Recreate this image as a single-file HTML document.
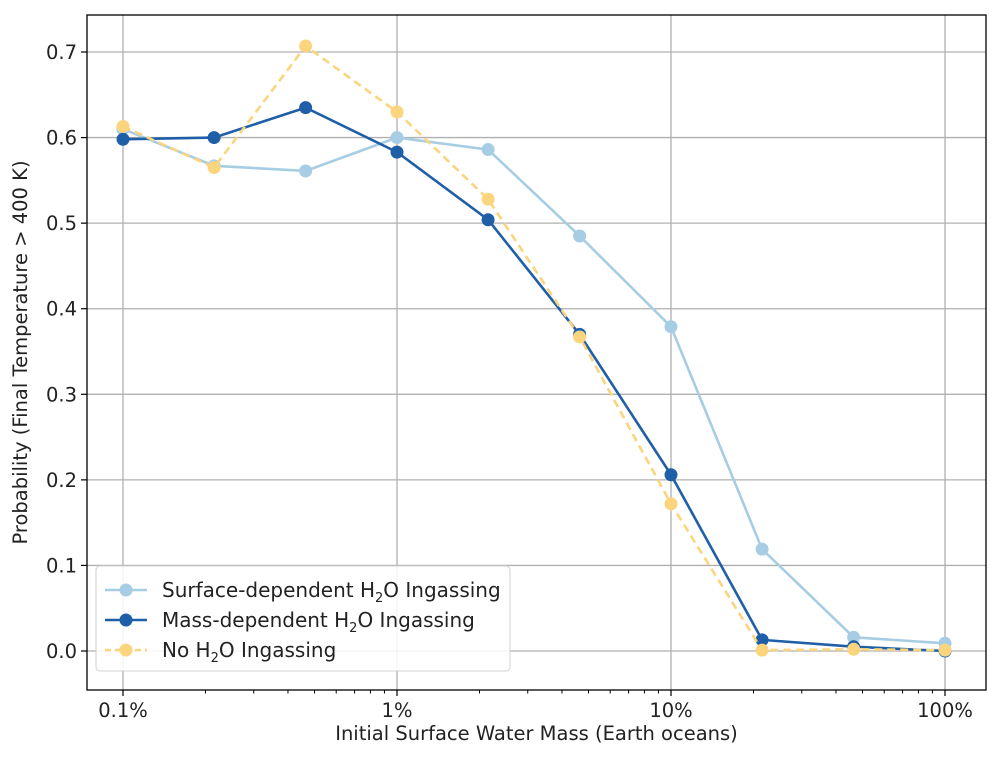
<!DOCTYPE html>
<html><head><meta charset="utf-8"><style>
body{margin:0;background:#fff;}
svg text{font-family:"DejaVu Sans","Liberation Sans",sans-serif;fill:#222;}
</style></head><body>
<svg id="chart" width="1000" height="757">
<g id="grid"></g><g id="axes"></g><g id="series"></g><g id="legend"></g>
</svg>
<script>
const xValues=[0.1,0.215,0.464,1,2.15,4.64,10,21.5,46.4,100];
const surfaceVals=[0.61,0.567,0.561,0.600,0.586,0.485,0.379,0.119,0.016,0.009];
const massVals=[0.598,0.600,0.635,0.583,0.504,0.370,0.206,0.013,0.005,0.000];
const noVals=[0.613,0.565,0.707,0.630,0.528,0.367,0.172,0.001,0.002,0.001];
const yTicks=[0,0.1,0.2,0.3,0.4,0.5,0.6,0.7];
const xTicks=[0.1,1,10,100];
const xTickLabels=["0.1%","1%","10%","100%"];
const NS="http://www.w3.org/2000/svg";
const L=87,R=986,T=15,B=690;
function xs(v){return 123+(Math.log10(v)+1)*274;}
function ys(v){return 651-v*855.7;}
function mk(tag,attrs,parent){const e=document.createElementNS(NS,tag);for(const k in attrs)e.setAttribute(k,attrs[k]);parent.appendChild(e);return e;}
const grid=document.getElementById('grid'),axes=document.getElementById('axes'),ser=document.getElementById('series'),leg=document.getElementById('legend');
yTicks.forEach(t=>{const y=ys(t);
 const g=mk('line',{x1:L,x2:R,y1:y,y2:y,stroke:'#b0b0b0','stroke-width':1.3},grid);
 
 
 mk('line',{x1:L-6,x2:L,y1:y,y2:y,stroke:'#000','stroke-width':1.2},axes);
 const tx=mk('text',{x:L-10,y:y+7,'text-anchor':'end','font-size':19.5},axes);tx.textContent=t.toFixed(1);
 
 
});
xTicks.forEach((t,i)=>{const x=xs(t);
 const g=mk('line',{x1:x,x2:x,y1:T,y2:B,stroke:'#b0b0b0','stroke-width':1.3},grid);
 
 
 mk('line',{x1:x,x2:x,y1:B,y2:B+6,stroke:'#000','stroke-width':1.2},axes);
 const tx=mk('text',{x:x,y:B+27,'text-anchor':'middle','font-size':19.5},axes);tx.textContent=xTickLabels[i];
 
 
});
for(let d=-1;d<2;d++)for(let m=2;m<10;m++){const x=xs(m*Math.pow(10,d));mk('line',{x1:x,x2:x,y1:B,y2:B+3.5,stroke:'#000','stroke-width':1},axes);}
const fr=mk('rect',{x:L,y:T,width:R-L,height:B-T,fill:'none',stroke:'#000','stroke-width':1.3},axes);


const xt=mk('text',{x:(L+R)/2+0,y:740,'text-anchor':'middle','font-size':19.5},axes);xt.textContent='Initial Surface Water Mass (Earth oceans)';


const yt=mk('text',{x:0,y:0,'text-anchor':'middle','font-size':19.5,transform:'translate(27,'+((T+B)/2)+') rotate(-90)'},axes);yt.textContent='Probability (Final Temperature > 400 K)';


const series=[{v:surfaceVals,c:'#a6cde3',d:null,n:'surface-dependent'},{v:massVals,c:'#1f5fa8',d:null,n:'mass-dependent'},{v:noVals,c:'#fbd57e',d:'8,5',n:'no-ingassing'}];
series.forEach(s=>{
 const pts=s.v.map((v,i)=>xs(xValues[i])+','+ys(v)).join(' ');
 const pl=mk('polyline',{points:pts,fill:'none',stroke:s.c,'stroke-width':2.6},ser);
 if(s.d)pl.setAttribute('stroke-dasharray',s.d);
 
 
 s.v.forEach((v,i)=>{const c=mk('circle',{cx:xs(xValues[i]),cy:ys(v),r:6.5,fill:s.c},ser);
  
  });
});
const lb=mk('rect',{x:96,y:566,width:414,height:105,rx:4,fill:'#fff','fill-opacity':0.85,stroke:'#d0d0d0'},leg);


const labels=['Surface-dependent H<tspan font-size="13" dy="5">2</tspan><tspan dy="-5">O Ingassing</tspan>','Mass-dependent H<tspan font-size="13" dy="5">2</tspan><tspan dy="-5">O Ingassing</tspan>','No H<tspan font-size="13" dy="5">2</tspan><tspan dy="-5">O Ingassing</tspan>'];
series.forEach((s,i)=>{const y=590+i*30;
 const l=mk('line',{x1:105,x2:147,y1:y,y2:y,stroke:s.c,'stroke-width':2.6},leg);
 if(s.d)l.setAttribute('stroke-dasharray','6,4');
 mk('circle',{cx:126,cy:y,r:6.5,fill:s.c},leg);
 const t=mk('text',{x:162,y:y+7,'font-size':20},leg);t.innerHTML=labels[i];
 
 
});
</script>
</body></html>
